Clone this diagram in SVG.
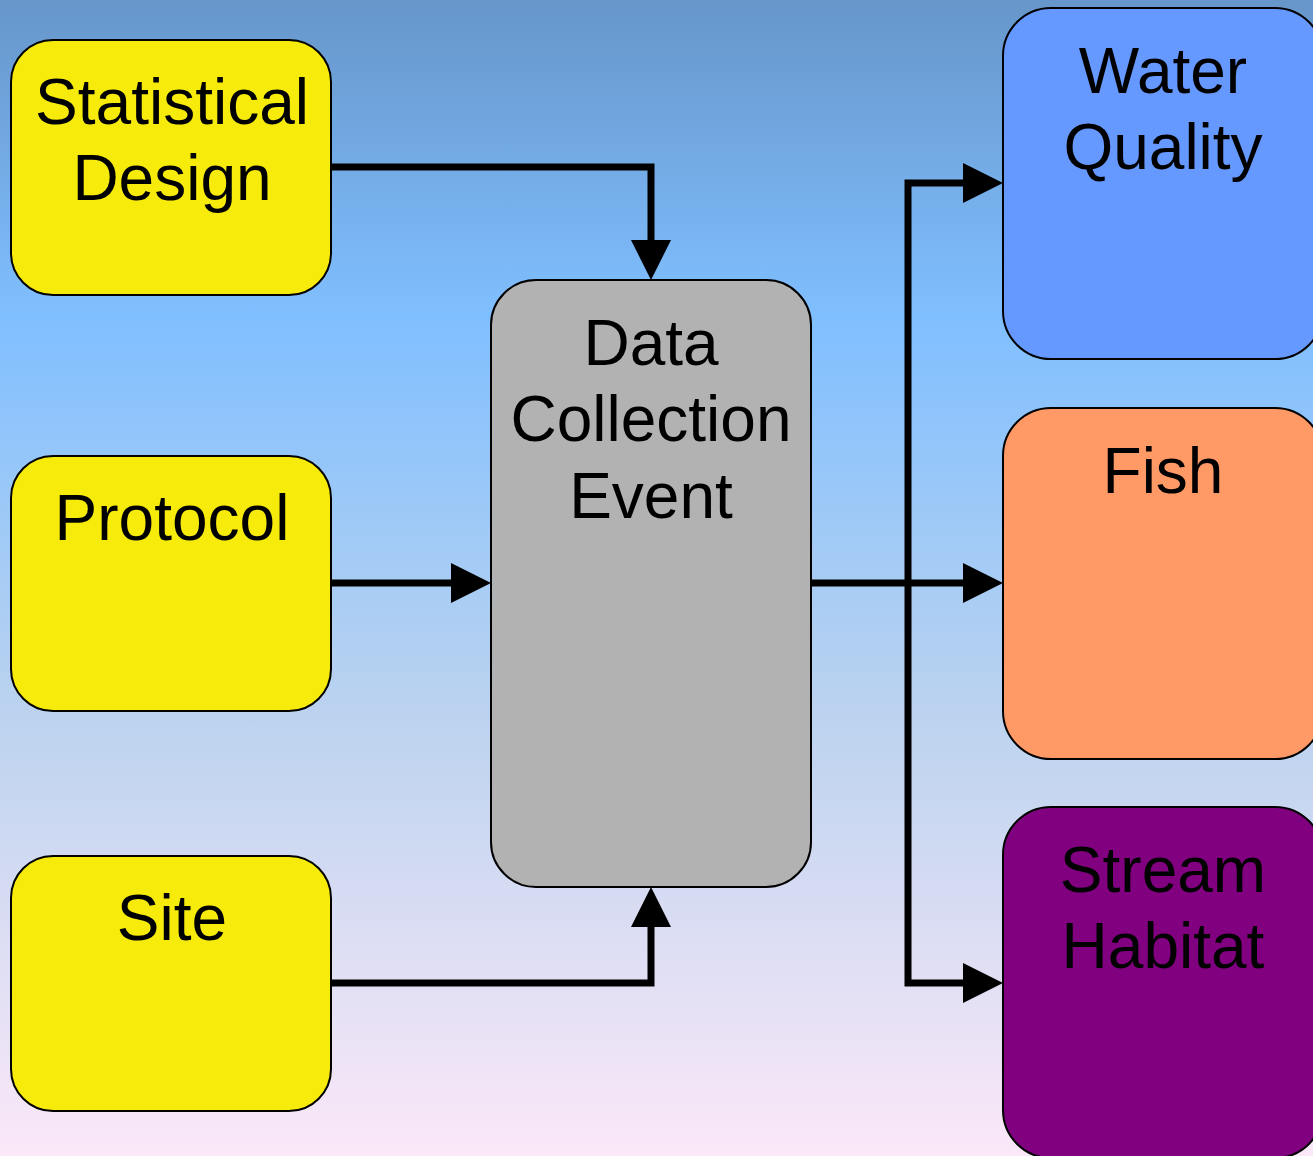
<svg xmlns="http://www.w3.org/2000/svg" width="1313" height="1156" viewBox="0 0 1313 1156">
  <defs>
    <linearGradient id="bg" x1="0" y1="0" x2="0" y2="1">
      <stop offset="0" stop-color="#6696CA"/>
      <stop offset="0.275" stop-color="#80BFFF"/>
      <stop offset="0.62" stop-color="#BCD3EF"/>
      <stop offset="1" stop-color="#FBE8F8"/>
    </linearGradient>
  </defs>
  <style>
    .box { stroke: #000; stroke-width: 2; }
    .yellow { fill: #F7EB0C; }
    .label { font-family: "Liberation Sans", Arial, sans-serif; font-size: 64px; fill: #000; text-anchor: middle; }
    .wire { fill: none; stroke: #000; stroke-width: 7; }
    .head { fill: #000; }
  </style>

  <rect x="0" y="0" width="1313" height="1156" fill="url(#bg)"/>

  <!-- connectors -->
  <g id="connectors">
    <polyline class="wire" points="331,167 651,167 651,241" />
    <path class="head" d="M631,240 L671,240 L651,280 Z"/>
    <polyline class="wire" points="331,583 452,583" />
    <path class="head" d="M451,563 L491,583 L451,603 Z"/>
    <polyline class="wire" points="331,983 651,983 651,926" />
    <path class="head" d="M631,927 L671,927 L651,887 Z"/>
    <polyline class="wire" points="811,583 964,583" />
    <polyline class="wire" points="964,183 908,183 908,983 964,983" />
    <path class="head" d="M963,163 L1003,183 L963,203 Z"/>
    <path class="head" d="M963,563 L1003,583 L963,603 Z"/>
    <path class="head" d="M963,963 L1003,983 L963,1003 Z"/>
  </g>

  <!-- input nodes -->
  <g id="statistical-design">
    <rect class="box yellow" x="11" y="40" width="320" height="255" rx="42" ry="42"/>
    <text class="label" x="172" y="124">Statistical</text>
    <text class="label" x="172" y="200">Design</text>
  </g>
  <g id="protocol">
    <rect class="box yellow" x="11" y="456" width="320" height="255" rx="42" ry="42"/>
    <text class="label" x="172" y="540">Protocol</text>
  </g>
  <g id="site">
    <rect class="box yellow" x="11" y="856" width="320" height="255" rx="42" ry="42"/>
    <text class="label" x="172" y="940">Site</text>
  </g>

  <!-- central node -->
  <g id="data-collection-event">
    <rect class="box" x="491" y="280" width="320" height="607" rx="45" ry="45" fill="#B2B2B2"/>
    <text class="label" x="651" y="365">Data</text>
    <text class="label" x="651" y="441">Collection</text>
    <text class="label" x="651" y="518">Event</text>
  </g>

  <!-- output nodes -->
  <g id="water-quality">
    <rect class="box" x="1003" y="8" width="320" height="351" rx="48" ry="48" fill="#6699FF"/>
    <text class="label" x="1163" y="93">Water</text>
    <text class="label" x="1163" y="169">Quality</text>
  </g>
  <g id="fish">
    <rect class="box" x="1003" y="408" width="320" height="351" rx="48" ry="48" fill="#FF9966"/>
    <text class="label" x="1163" y="493">Fish</text>
  </g>
  <g id="stream-habitat">
    <rect class="box" x="1003" y="807" width="320" height="351" rx="48" ry="48" fill="#800080"/>
    <text class="label" x="1163" y="892">Stream</text>
    <text class="label" x="1163" y="968">Habitat</text>
  </g>
</svg>
